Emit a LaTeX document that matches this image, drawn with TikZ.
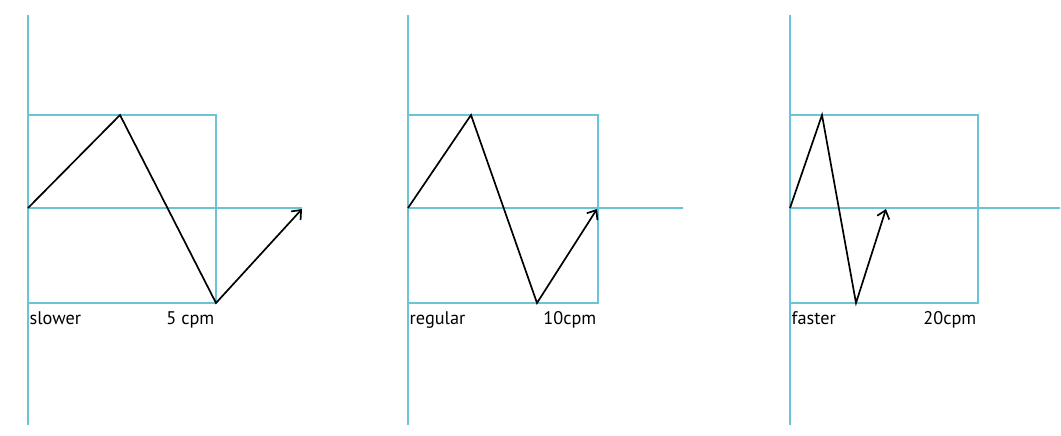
\documentclass[tikz,border=0pt]{standalone}
\usepackage{fontspec}
\setmainfont{PT Sans}
\usetikzlibrary{positioning,arrows.meta}
\definecolor{guide}{RGB}{105,196,214}

\begin{document}
\begin{tikzpicture}[
    x=0.025cm, y=-0.025cm,
    font=\fontsize{13}{15}\selectfont,
    >={Straight Barb[length=5.5pt,width=9pt]},
    guideline/.style={
        draw=guide,
        line width=1.1pt
    },
    wave/.style={
        draw=black,
        line width=1.2pt,
        line join=miter
    },
    tag/.style={
        inner sep=1pt
    }
]

\useasboundingbox (0,0) rectangle (1061,435);

% Slower
\coordinate (s_top) at (28,15);
\coordinate (s_bot) at (28,425);
\coordinate (s_nw) at (28,115);
\coordinate (s_sw) at (28,303);
\coordinate (s_se) at (216,303);
\coordinate (s_o) at (28,208);
\coordinate (s_end) at (302,208);
\coordinate (s_peak) at (120,115);
\coordinate (s_tip) at (302,209);

\draw[guideline] (s_top) -- (s_bot);
\draw[guideline] (s_nw) rectangle (s_se);
\draw[guideline] (s_o) -- (s_end);
\draw[wave, ->] (s_o) -- (s_peak) -- (s_se) -- (s_tip);

\node[tag, below right=5pt and 0pt of s_sw] (s_name) {slower};
\node[tag, below left=5pt and 0pt of s_se] (s_rate) {5 cpm};

% Regular
\coordinate (r_top) at (408,15);
\coordinate (r_bot) at (408,425);
\coordinate (r_nw) at (408,115);
\coordinate (r_sw) at (408,303);
\coordinate (r_se) at (598,303);
\coordinate (r_o) at (408,208);
\coordinate (r_end) at (683,208);
\coordinate (r_peak) at (471,115);
\coordinate (r_trough) at (537,303);
\coordinate (r_tip) at (597,209);

\draw[guideline] (r_top) -- (r_bot);
\draw[guideline] (r_nw) rectangle (r_se);
\draw[guideline] (r_o) -- (r_end);
\draw[wave, ->] (r_o) -- (r_peak) -- (r_trough) -- (r_tip);

\node[tag, below right=5pt and 0pt of r_sw] (r_name) {regular};
\node[tag, below left=5pt and 0pt of r_se] (r_rate) {10cpm};

% Faster
\coordinate (f_top) at (790,15);
\coordinate (f_bot) at (790,425);
\coordinate (f_nw) at (790,115);
\coordinate (f_sw) at (790,303);
\coordinate (f_se) at (978,303);
\coordinate (f_o) at (790,208);
\coordinate (f_end) at (1060,208);
\coordinate (f_peak) at (822,115);
\coordinate (f_trough) at (856,303);
\coordinate (f_tip) at (886,209);

\draw[guideline] (f_top) -- (f_bot);
\draw[guideline] (f_nw) rectangle (f_se);
\draw[guideline] (f_o) -- (f_end);
\draw[wave, ->] (f_o) -- (f_peak) -- (f_trough) -- (f_tip);

\node[tag, below right=5pt and 0pt of f_sw] (f_name) {faster};
\node[tag, below left=5pt and 0pt of f_se] (f_rate) {20cpm};

\end{tikzpicture}
\end{document}
